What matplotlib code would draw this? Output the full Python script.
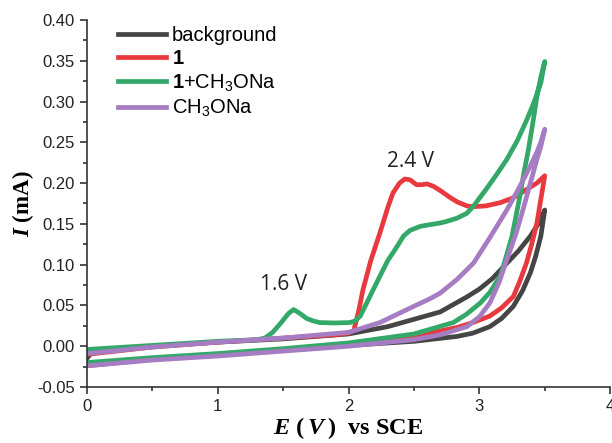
import matplotlib
matplotlib.use("Agg")
import matplotlib.pyplot as plt
from matplotlib.ticker import MultipleLocator, FormatStrFormatter

plt.rcParams['font.family'] = ['Liberation Sans', 'DejaVu Sans']
plt.rcParams['mathtext.fontset'] = 'custom'
plt.rcParams['mathtext.rm'] = 'Liberation Sans'
plt.rcParams['mathtext.bf'] = 'Liberation Sans:bold'
plt.rcParams['mathtext.bfit'] = 'Liberation Serif:italic:bold'

# background: forward scan then reverse scan
bg_x_fwd = [0.0, 0.03, 0.1, 0.5, 1.0, 1.5, 2.0, 2.3, 2.5, 2.7, 2.9, 3.0, 3.1, 3.2, 3.3, 3.39, 3.45, 3.5]
bg_y_fwd = [-0.015, -0.009, -0.006, 0.0, 0.005, 0.009, 0.015, 0.024, 0.033, 0.042, 0.060, 0.070, 0.083, 0.100, 0.117, 0.135, 0.150, 0.167]
bg_x_rev = [3.5, 3.47, 3.43, 3.39, 3.33, 3.26, 3.17, 3.08, 2.95, 2.83, 2.5, 2.0, 1.5, 1.0, 0.5, 0.0]
bg_y_rev = [0.167, 0.135, 0.110, 0.090, 0.068, 0.049, 0.034, 0.024, 0.016, 0.012, 0.006, 0.001, -0.005, -0.010, -0.015, -0.021]

# compound 1
c1_x_fwd = [0.0, 0.5, 1.0, 1.5, 1.9, 2.0, 2.04, 2.08, 2.11, 2.17, 2.24, 2.30, 2.34, 2.39, 2.43, 2.47,
            2.52, 2.56, 2.60, 2.65, 2.70, 2.77, 2.83, 2.905, 2.95, 3.05, 3.16, 3.26, 3.36, 3.44, 3.5]
c1_y_fwd = [-0.010, -0.001, 0.005, 0.010, 0.014, 0.016, 0.019, 0.045, 0.069, 0.105, 0.139, 0.170, 0.188, 0.200, 0.205, 0.204,
            0.198, 0.198, 0.199, 0.196, 0.191, 0.183, 0.177, 0.172, 0.171, 0.172, 0.176, 0.182, 0.192, 0.200, 0.209]
c1_x_rev = [3.5, 3.47, 3.44, 3.40, 3.36, 3.31, 3.26, 3.17, 3.08, 2.95, 2.83, 2.5, 2.0, 1.5, 1.0, 0.5, 0.0]
c1_y_rev = [0.209, 0.180, 0.151, 0.125, 0.102, 0.080, 0.061, 0.047, 0.037, 0.029, 0.023, 0.012, 0.003, -0.004, -0.010, -0.016, -0.024]

# compound 1 + CH3ONa
c1m_x_fwd = [0.0, 0.5, 1.0, 1.3, 1.36, 1.42, 1.48, 1.54, 1.58, 1.63, 1.68, 1.73, 1.78, 1.9, 2.01, 2.05, 2.09,
             2.16, 2.24, 2.30, 2.37, 2.42, 2.47, 2.55, 2.62, 2.70, 2.75, 2.83, 2.905, 2.956, 3.05, 3.13, 3.21,
             3.29, 3.364, 3.42, 3.47, 3.5]
c1m_y_fwd = [-0.004, 0.001, 0.006, 0.008, 0.010, 0.017, 0.028, 0.040, 0.045, 0.040, 0.034, 0.031, 0.029, 0.0285, 0.029, 0.031, 0.037,
             0.060, 0.086, 0.105, 0.122, 0.135, 0.142, 0.147, 0.149, 0.151, 0.153, 0.157, 0.163, 0.172, 0.192, 0.210, 0.229,
             0.252, 0.278, 0.300, 0.323, 0.349]
c1m_x_rev = [3.5, 3.47, 3.44, 3.41, 3.375, 3.34, 3.31, 3.25, 3.20, 3.16, 3.08, 3.007, 2.90, 2.80, 2.5, 2.0, 1.5, 1.0, 0.5, 0.0]
c1m_y_rev = [0.349, 0.330, 0.306, 0.275, 0.241, 0.212, 0.184, 0.135, 0.107, 0.086, 0.066, 0.053, 0.039, 0.029, 0.015, 0.004, -0.003, -0.009, -0.014, -0.020]

# CH3ONa
m_x_fwd = [0.0, 0.5, 1.0, 1.5, 2.0, 2.24, 2.37, 2.5, 2.62, 2.70, 2.83, 2.956, 3.08, 3.21, 3.30, 3.39, 3.44, 3.47, 3.5]
m_y_fwd = [-0.009, -0.001, 0.005, 0.010, 0.017, 0.029, 0.039, 0.049, 0.058, 0.065, 0.082, 0.102, 0.133, 0.167, 0.193, 0.221, 0.238, 0.250, 0.266]
m_x_rev = [3.5, 3.47, 3.44, 3.39, 3.34, 3.28, 3.21, 3.15, 3.08, 3.0, 2.905, 2.70, 2.5, 2.0, 1.5, 1.0, 0.5, 0.0]
m_y_rev = [0.266, 0.245, 0.229, 0.200, 0.171, 0.138, 0.106, 0.078, 0.053, 0.036, 0.024, 0.014, 0.008, 0.000, -0.006, -0.012, -0.017, -0.024]

fig = plt.figure(figsize=(6.12, 4.43), dpi=100)
ax = fig.add_axes([0.142, 0.1264, 0.855, 0.8286])

lw = 3.4
ax.plot(bg_x_fwd + bg_x_rev, bg_y_fwd + bg_y_rev, color='#454545', lw=lw, solid_joinstyle='round', label='background')
ax.plot(c1_x_fwd + c1_x_rev, c1_y_fwd + c1_y_rev, color='#e8393e', lw=lw, solid_joinstyle='round', label=r'$\mathbf{1}$')
ax.plot(c1m_x_fwd + c1m_x_rev, c1m_y_fwd + c1m_y_rev, color='#33a869', lw=lw, solid_joinstyle='round',
        label=r'$\mathbf{1}$+CH$_3$ONa')
ax.plot(m_x_fwd + m_x_rev, m_y_fwd + m_y_rev, color='#a67cc2', lw=lw, solid_joinstyle='round', label=r'CH$_3$ONa')

ax.set_xlim(0, 4)
ax.set_ylim(-0.05, 0.40)
ax.xaxis.set_major_locator(MultipleLocator(1))
ax.xaxis.set_minor_locator(MultipleLocator(0.5))
ax.yaxis.set_major_locator(MultipleLocator(0.05))
ax.yaxis.set_minor_locator(MultipleLocator(0.025))
ax.yaxis.set_major_formatter(FormatStrFormatter('%.2f'))

for s in ['top', 'right']:
    ax.spines[s].set_visible(False)
for s in ['left', 'bottom']:
    ax.spines[s].set_color('#333333')
    ax.spines[s].set_linewidth(1.2)
ax.tick_params(which='major', length=5, width=1.2, color='#333333', labelsize=12, labelcolor='#222222')
ax.tick_params(which='minor', length=3, width=1.2, color='#333333')

ax.set_xlabel(r'$\mathbfit{E}$ ($\,\mathbfit{V}\,$)  vs SCE', family='Liberation Serif', fontweight='bold',
              fontsize=17.5, labelpad=1)
ax.set_ylabel(r'$\mathbfit{I}$ (mA)', family='Liberation Serif', fontweight='bold', fontsize=16.5, labelpad=1)

ax.text(1.503, 0.076, '1.6 V', family='Open Sans', fontsize=15, ha='center', va='center', color='#222222')
ax.text(2.475, 0.226, '2.4 V', family='Open Sans', fontsize=15, ha='center', va='center', color='#222222')

ax.legend(loc='upper left', bbox_to_anchor=(0.059, 0.983), frameon=False, fontsize=14.5,
          handlelength=2.4, handletextpad=0.3, labelspacing=0.2, borderpad=0, borderaxespad=0)

fig.savefig('out.png', dpi=100)
